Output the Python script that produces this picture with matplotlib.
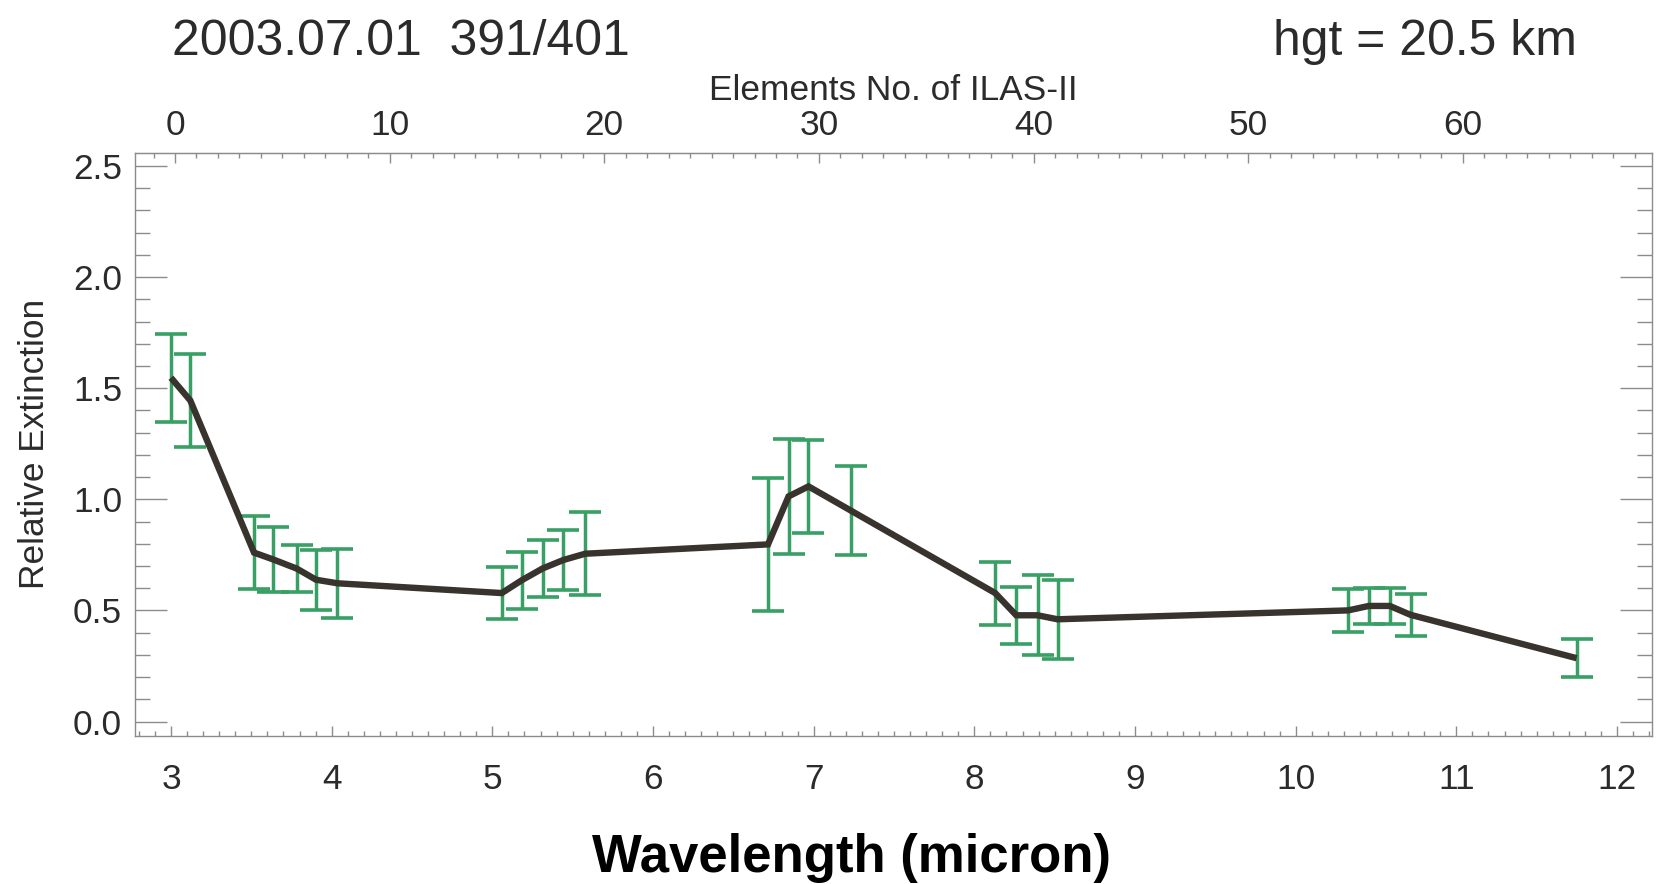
import matplotlib
matplotlib.use("Agg")
import matplotlib.pyplot as plt
from matplotlib import font_manager as fm
from matplotlib.ticker import MultipleLocator, FixedLocator, FormatStrFormatter

# Measured relative extinction spectrum (ILAS-II, 2003-07-01, 20.5 km)
wavelength = [3.00, 3.12, 3.517, 3.637, 3.783, 3.903, 4.036,
              5.059, 5.184, 5.314, 5.443, 5.578,
              6.716, 6.844, 6.968, 7.232,
              8.13, 8.261, 8.394, 8.518,
              10.327, 10.455, 10.586, 10.715, 11.749]
extinction = [1.547, 1.445, 0.760, 0.729, 0.688, 0.638, 0.622,
              0.578, 0.636, 0.689, 0.727, 0.755,
              0.797, 1.013, 1.058, 0.949,
              0.578, 0.478, 0.478, 0.460,
              0.500, 0.520, 0.520, 0.480, 0.285]
error = [0.198, 0.21, 0.164, 0.145, 0.106, 0.135, 0.155,
         0.116, 0.129, 0.128, 0.135, 0.186,
         0.298, 0.259, 0.209, 0.200,
         0.142, 0.127, 0.180, 0.178,
         0.098, 0.080, 0.080, 0.096, 0.085]

element_ticks = [0, 10, 20, 30, 40, 50, 60]

title_left = "2003.07.01  391/401"
title_right = "hgt = 20.5 km"
top_label = "Elements No. of ILAS-II"
x_label = "Wavelength (micron)"
y_label = "Relative Extinction"

# element number <-> wavelength relation of the detector array
EL0, DEL = 3.025, 0.1336


def wl_to_el(w):
    return (w - EL0) / DEL


def el_to_wl(e):
    return EL0 + e * DEL


# Helvetica-Narrow look: use Liberation Sans Narrow when present,
# otherwise a slightly smaller Liberation Sans
have_narrow = any(f.name == "Liberation Sans Narrow"
                  for f in fm.fontManager.ttflist)
if have_narrow:
    family = ["Liberation Sans Narrow", "Liberation Sans", "DejaVu Sans"]
    scale = 1.0
else:
    family = ["Liberation Sans", "DejaVu Sans"]
    scale = 0.875

plt.rcParams["font.family"] = family
LBL = 29 * scale
BIG = 41 * scale
text_col = "#2b2b2b"
frame_col = "#8c8c8c"

W, H = 1663, 884
fig = plt.figure(figsize=(W / 100, H / 100), dpi=100)
ax = fig.add_axes([134.5 / W, (H - 735.5) / H, (1652 - 134.5) / W, 582.2 / H])

ax.errorbar(wavelength, extinction, yerr=error, fmt="none",
            ecolor="#38a064", elinewidth=2.5, capsize=11.5, capthick=2.6,
            zorder=2)
ax.plot(wavelength, extinction, color="#39332e", lw=4.6,
        solid_joinstyle="miter", solid_capstyle="butt", zorder=3)

ax.set_xlim(2.773, 12.218)
ax.set_ylim(-0.063, 2.557)

ax.xaxis.set_major_locator(MultipleLocator(1))
ax.xaxis.set_minor_locator(MultipleLocator(0.1))
ax.yaxis.set_major_locator(MultipleLocator(0.5))
ax.yaxis.set_minor_locator(MultipleLocator(0.1))
ax.yaxis.set_major_formatter(FormatStrFormatter("%.1f"))

for s in ax.spines.values():
    s.set_color(frame_col)
    s.set_linewidth(1.0)

ax.tick_params(axis="x", which="both", direction="in", top=False,
               bottom=True, color=frame_col, width=1.0,
               labelcolor=text_col, labelsize=LBL, pad=20)
ax.tick_params(axis="x", which="major", length=7)
ax.tick_params(axis="x", which="minor", length=3.6)
ax.tick_params(axis="y", which="both", direction="in", left=True,
               right=True, color=frame_col, width=1.0,
               labelcolor=text_col, labelsize=LBL, pad=9)
ax.tick_params(axis="y", which="major", length=23)
ax.tick_params(axis="y", which="minor", length=11)

sec = ax.secondary_xaxis("top", functions=(wl_to_el, el_to_wl))
sec.xaxis.set_major_locator(FixedLocator(element_ticks))
sec.xaxis.set_minor_locator(MultipleLocator(1))
sec.spines["top"].set_color(frame_col)
sec.tick_params(axis="x", which="both", direction="in", color=frame_col,
                width=1.0, labelcolor=text_col, labelsize=LBL, pad=8)
sec.tick_params(axis="x", which="major", length=7)
sec.tick_params(axis="x", which="minor", length=3.6)

ax.set_ylabel(y_label, color=text_col, fontsize=LBL)
ax.yaxis.set_label_coords(-0.055, 0.5)

fig.text(893 / W, 1 - 100 / H, top_label, ha="center", va="baseline",
         fontsize=LBL, color=text_col)
fig.text(172 / W, 1 - 55 / H, title_left, ha="left", va="baseline",
         fontsize=BIG, color=text_col)
fig.text(1577 / W, 1 - 55 / H, title_right, ha="right", va="baseline",
         fontsize=BIG, color=text_col)
fig.text(852 / W, 1 - 872 / H, x_label, ha="center", va="baseline",
         fontsize=38, fontweight="bold", color="black",
         family=["Liberation Sans", "DejaVu Sans"])

fig.savefig("out.png", dpi=100, facecolor="white")
